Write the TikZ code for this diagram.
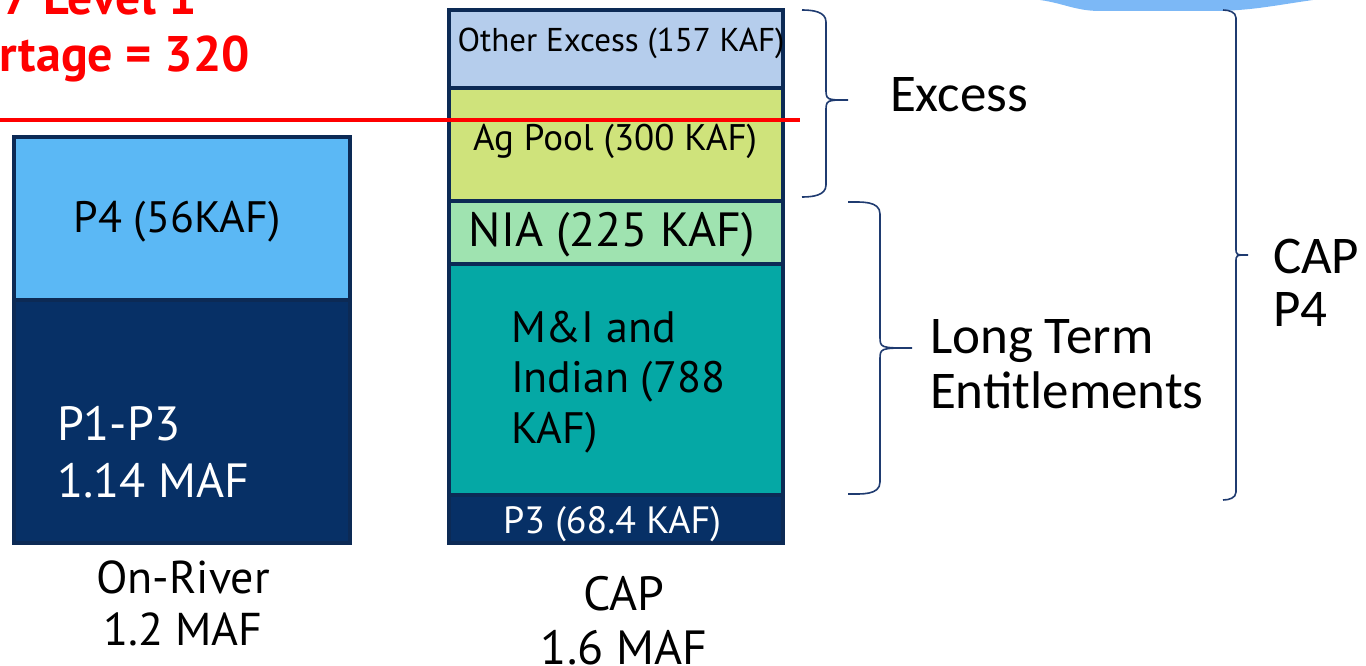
\documentclass[tikz,border=0pt]{standalone}
\usepackage{fontspec}
\setmainfont{PT Sans}
\newfontfamily\cali{Carlito}
\definecolor{bordc}{HTML}{0C2A55}
\definecolor{navy}{HTML}{073066}
\definecolor{ltblue}{HTML}{5BB8F5}
\definecolor{othx}{HTML}{B5CDEC}
\definecolor{agc}{HTML}{CFE37B}
\definecolor{niac}{HTML}{9FE3B0}
\definecolor{mic}{HTML}{05A8A5}
\definecolor{bracec}{HTML}{1F3B70}
\definecolor{cloudc}{HTML}{7CB8F6}
\begin{document}
\begin{tikzpicture}[x=1pt,y=-1pt,
  seg/.style={draw=bordc, line width=3.5pt, inner sep=0pt, outer sep=0pt, anchor=north west},
  txt/.style={inner sep=0pt, outer sep=0pt},
  bracestyle/.style={draw=bracec, line width=1.6pt},
  redline/.style={draw=red, line width=4pt}]
\useasboundingbox (0,0) rectangle (1366,666);
\clip (0,0) rectangle (1366,666);
% top-right blue shape
\fill[cloudc] (1040,-2) -- (1040,0) to[out=-8,in=180] (1100,11) -- (1210,11) to[out=0,in=-172] (1313,0) -- (1313,-2) -- cycle;
% red title
\node[txt, anchor=base east, text=red, font=\fontsize{50}{58}\selectfont\bfseries] (t1) at (197,15) {7 Level 1};
\node[txt, anchor=base east, text=red, font=\fontsize{50}{58}\selectfont\bfseries] (t2) at (250,72) {rtage = 320};
% left column
\node[seg, fill=ltblue, minimum width=336pt, minimum height=163pt] (p4) at (14,137) {};
\node[seg, fill=navy, minimum width=336pt, minimum height=243pt] (p13) at (14,300) {};
\draw[bordc, line width=3.5pt, rounded corners=2pt] (p4.north west) rectangle (p13.south east);
\node[txt, anchor=base, font=\fontsize{44}{52}\selectfont] (p4t) at (177,232) {P4 (56KAF)};
\node[txt, anchor=base west, align=left, text=white, font=\fontsize{48}{57}\selectfont] (p13t) at (57,497) {P1-P3\\1.14 MAF};
\node[txt, anchor=base, align=center, font=\fontsize{46}{52}\selectfont] (onr) at (183,645) {On-River\\1.2 MAF};
% CAP column
\node[seg, fill=othx, minimum width=334pt, minimum height=78pt] (oth) at (449,10) {};
\node[seg, fill=agc, minimum width=334pt, minimum height=113pt] (ag) at (449,88) {};
\node[seg, fill=niac, minimum width=334pt, minimum height=63pt] (nia) at (449,201) {};
\node[seg, fill=mic, minimum width=334pt, minimum height=231pt] (mi) at (449,264) {};
\node[seg, fill=navy, minimum width=334pt, minimum height=48pt] (p3) at (449,495) {};
\draw[bordc, line width=3.5pt, rounded corners=2pt] (oth.north west) rectangle (p3.south east);
\node[txt, anchor=base, font=\fontsize{33}{38}\selectfont] (otht) at (621,52) {Other Excess (157 KAF)};
\node[txt, anchor=base, font=\fontsize{37}{42}\selectfont] (agt) at (615,150) {Ag Pool (300 KAF)};
\node[txt, anchor=base, font=\fontsize{48}{52}\selectfont] (niat) at (612,246) {NIA (225 KAF)};
\node[txt, anchor=base west, align=left, font=\fontsize{44}{50.5}\selectfont] (mit) at (511,443) {M\&I and\\Indian (788\\KAF)};
\node[txt, anchor=base, text=white, font=\fontsize{38}{42}\selectfont] (p3t) at (612,533) {P3 (68.4 KAF)};
\node[txt, anchor=base, align=center, font=\fontsize{48}{54}\selectfont] (capt) at (624,664) {CAP\\1.6 MAF};
% red line
\coordinate (rl1) at (0,120);
\coordinate (rl2) at (800,120);
\draw[redline] (rl1) -- (rl2);
% braces
\coordinate (e1) at (802,10); \coordinate (e2) at (802,197); \coordinate (ep) at (848,100);
\draw[bracestyle] (e1) to[out=0,in=90] (826,22) -- (826,88) .. controls (826,100) .. (ep)
  .. controls (826,100) .. (826,112) -- (826,185) to[out=-90,in=0] (e2);
\coordinate (l1) at (848,202); \coordinate (l2) at (848,494); \coordinate (lp) at (912,348);
\draw[bracestyle] (l1) to[out=0,in=90] (880,214) -- (880,336) .. controls (880,348) .. (lp)
  .. controls (880,348) .. (880,360) -- (880,482) to[out=-90,in=0] (l2);
\coordinate (c1) at (1223,10); \coordinate (c2) at (1223,500); \coordinate (cp) at (1248,255);
\draw[bracestyle] (c1) to[out=0,in=90] (1236,18) -- (1236,248) .. controls (1236,255) .. (cp)
  .. controls (1236,255) .. (1236,262) -- (1236,492) to[out=-90,in=0] (c2);
% brace labels
\node[txt, anchor=base west, font=\fontsize{53}{55}\selectfont\cali] (exl) at (890,112) {Excess};
\node[txt, anchor=base west, align=left, font=\fontsize{53}{55}\selectfont\cali] (ltl) at (930,408) {Long Term\\Entitlements};
\node[txt, anchor=base west, align=left, font=\fontsize{53}{53}\selectfont\cali] (cpl) at (1273,326) {CAP\\P4};
\end{tikzpicture}
\end{document}
